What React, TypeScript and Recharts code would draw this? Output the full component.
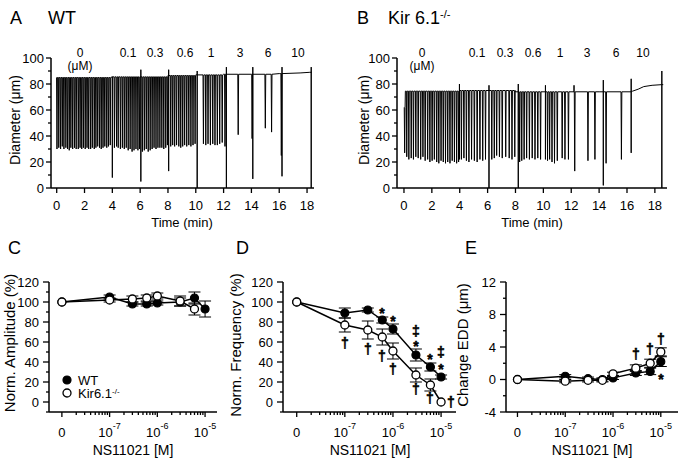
import React from 'react';
import { LineChart, ComposedChart, Line, XAxis, YAxis, Scatter, ErrorBar } from 'recharts';

const FONT = 'Arial, "Liberation Sans", Helvetica, sans-serif';

// ---------- A: WT diameter trace ----------
const wtBaseT = [0, 4, 8, 10, 12, 16, 17.5, 18.2];
const wtBaseD = [85, 85.5, 86.5, 87, 87.5, 88, 88.5, 89];
const wtDipT = [
  0.02, 0.15, 0.28, 0.4, 0.52, 0.66, 0.78, 0.9, 1.02, 1.15, 1.28, 1.4, 1.55, 1.68, 1.8, 1.92,
  2.05, 2.18, 2.3, 2.44, 2.56, 2.7, 2.82, 2.95, 3.08, 3.2, 3.33, 3.46, 3.6, 3.72, 3.85,
  4.15, 4.3, 4.42, 4.58, 4.72, 4.86, 5.0, 5.14, 5.28, 5.42, 5.56, 5.7, 5.84, 5.96,
  6.16, 6.3, 6.44, 6.58, 6.72, 6.86, 7.0, 7.14, 7.28, 7.42, 7.56, 7.7, 7.84, 7.96,
  8.2, 8.34, 8.48, 8.62, 8.78, 8.92, 9.06, 9.2, 9.35, 9.5, 9.65, 9.8, 9.95,
  10.55, 10.72, 10.88, 11.05, 11.22, 11.38, 11.55, 11.72, 11.9, 12.1,
  13.05, 14.05, 15.0, 15.45, 16.15,
];
const wtDipD = [
  30, 31, 30, 32, 30, 31, 30, 29, 31, 30, 31, 30, 30, 31, 30, 31,
  30, 31, 30, 30, 31, 30, 31, 32, 31, 30, 31, 32, 31, 32, 33,
  31, 32, 31, 30, 31, 30, 31, 29, 30, 28, 29, 30, 29, 30,
  28, 29, 30, 28, 29, 30, 31, 30, 31, 31, 31, 30, 31, 33,
  32, 33, 32, 33, 32, 31, 32, 33, 32, 33, 32, 33, 34,
  34, 33, 34, 33, 34, 33, 33, 34, 35, 32,
  41, 38, 46, 43, 25,
];
const wtMarkT = [4.0, 6.05, 8.05, 10.1, 12.2, 14.1, 16.2, 18.3];
const wtMarkTop = [85, 91, 91, 90, 93, 93, 93, 93];
const wtMarkBot = [8, 5, 13, 0, 0, 7, 9, 0];
const wtEnd = 18.35;

// ---------- B: Kir6.1-/- diameter trace ----------
const koBaseT = [0, 0.1, 4, 8, 14, 16.4, 16.8, 17.2, 17.8, 18.5];
const koBaseD = [62, 74.5, 75, 74, 74, 74.5, 76, 78, 79, 79.5];
const koDipT = [
  0.05, 0.2, 0.35, 0.52, 0.68, 0.85, 1.02, 1.2, 1.36, 1.52, 1.7, 1.86, 2.02, 2.18, 2.35, 2.5,
  2.66, 2.82, 2.98, 3.14, 3.3, 3.46, 3.62, 3.78, 3.92,
  4.12, 4.3, 4.48, 4.66, 4.85, 5.05, 5.25, 5.45, 5.65, 5.85,
  6.3, 6.48, 6.65, 6.85, 7.05, 7.3, 7.55, 7.75, 7.95,
  8.3, 8.45, 8.62, 8.8, 9.0, 9.2, 9.4, 9.6, 9.8,
  10.3, 10.45, 10.62, 10.8, 11.0, 11.35, 11.55, 11.8, 12.25,
  13.2, 13.7, 14.5, 15.6,
];
const koDipD = [
  27, 24, 22, 23, 22, 24, 23, 22, 24, 21, 22, 20, 21, 22, 20, 19,
  21, 20, 19, 20, 19, 21, 20, 19, 20,
  22, 23, 21, 20, 22, 21, 20, 22, 21, 22,
  22, 23, 25, 24, 23, 24, 23, 22, 24,
  20, 21, 22, 23, 22, 23, 22, 23, 22,
  21, 22, 20, 19, 21, 23, 22, 22, 13,
  21, 22, 19, 22,
];
const koMarkT = [3.98, 6.1, 8.2, 10.15, 12.2, 14.3, 16.3, 18.5];
const koMarkTop = [80, 79, 80, 79, 79, 83, 84, 90];
const koMarkBot = [22, 0, 0, 22, 74, 2, 27, 0];
const koEnd = 18.6;

const timeTicks = [0, 2, 4, 6, 8, 10, 12, 14, 16, 18];
const diamTicks = [0, 10, 20, 30, 40, 50, 60, 70, 80, 90, 100];
const doseText = ['0', '0.1', '0.3', '0.6', '1', '3', '6', '10'];

// ---------- C-E: dose responses ----------
const doses = [0, 1e-7, 3e-7, 6e-7, 1e-6, 3e-6, 6e-6, 1e-5];

const ampWT = [100, 105, 98, 98, 99, 100, 104, 93];
const ampWTErr = [0, 2, 2, 2, 2, 4, 6, 8];
const ampKO = [100, 102, 103, 104, 106, 101, 93];
const ampKOErr = [0, 2, 3, 3, 3, 5, 6];

const freqWT = [100, 89, 92, 82, 73, 47, 35, 25];
const freqWTErr = [0, 5, 2, 3, 5, 6, 4, 2];
const freqKO = [100, 77, 72, 65, 51, 27, 17, 0];
const freqKOErr = [0, 7, 9, 8, 8, 7, 6, 0];

const eddWT = [0, 0.4, 0.1, 0, 0.2, 0.8, 1.0, 2.2];
const eddWTErr = [0, 0.2, 0.2, 0.2, 0.2, 0.3, 0.4, 0.6];
const eddKO = [0, -0.2, -0.1, -0.1, 0.7, 1.4, 2.0, 3.4];
const eddKOErr = [0, 0.2, 0.2, 0.2, 0.2, 0.4, 0.5, 0.5];

// significance marks: dose, y value, symbol, placement
const freqMarkDose = [6e-7, 1e-6, 3e-6, 3e-6, 6e-6, 1e-5, 1e-5, 1e-7, 3e-7, 6e-7, 1e-6, 3e-6, 6e-6, 1e-5];
const freqMarkY = [93, 85, 71, 60, 47, 50, 37, 59, 53, 46, 33, 13, 4, 0];
const freqMarkSym = ['*', '*', '‡', '*', '*', '‡', '*', '†', '†', '†', '†', '†', '†', '†'];
const freqMarkSide = ['', '', '', '', '', '', '', '', '', '', '', '', '', 'right'];

const eddMarkDose = [3e-6, 6e-6, 1e-5, 1e-5];
const eddMarkY = [3.1, 3.7, 5.0, 0.6];
const eddMarkSym = ['†', '†', '†', '*'];
const eddMarkSide = ['', '', '', ''];

const ampTicks = [-10, 0, 10, 20, 30, 40, 50, 60, 70, 80, 90, 100, 110, 120];
const eddTicks = [-4, -2, 0, 2, 4, 6, 8, 10, 12];

const logPos = (d: number) => (d === 0 ? -8 : Math.log10(d));
const logTicks: number[] = [];
[-8, -7, -6].forEach((dec) => {
  logTicks.push(dec);
  for (let k = 2; k <= 9; k++) logTicks.push(dec + Math.log10(k));
});
logTicks.push(-5);

const toPts = (vals: number[], errs: number[]) =>
  vals.map((v, i) => ({ x: logPos(doses[i]), y: v, e: errs[i] }));
const toMarks = (ds: number[], ys: number[], ss: string[], side: string[]) =>
  ds.map((d, i) => ({ x: logPos(d), y: ys[i], s: ss[i], side: side[i] }));

function baseAt(bt: number[], bd: number[], t: number) {
  let v = bd[0];
  bt.forEach((s, i) => {
    if (t >= s) v = bd[i];
  });
  return v;
}

function buildTrace(
  bt: number[], bd: number[], dipT: number[], dipD: number[],
  mT: number[], mTop: number[], mBot: number[], end: number,
) {
  const ev: { t: number; pts: number[][] }[] = [];
  bt.forEach((t, i) => ev.push({ t, pts: [[t, bd[i]]] }));
  dipT.forEach((t, i) => {
    const b = baseAt(bt, bd, t);
    ev.push({ t, pts: [[t - 0.03, b], [t, dipD[i]], [t + 0.03, b]] });
  });
  mT.forEach((t, i) => {
    const b = baseAt(bt, bd, t);
    ev.push({ t, pts: [[t, b], [t, mTop[i]], [t, mBot[i]], [t, b]] });
  });
  ev.push({ t: end, pts: [[end, baseAt(bt, bd, end)]] });
  ev.sort((a, b) => a.t - b.t);
  return ev.flatMap((e) => e.pts.map(([t, d]) => ({ t, d })));
}

const wtTrace = buildTrace(wtBaseT, wtBaseD, wtDipT, wtDipD, wtMarkT, wtMarkTop, wtMarkBot, wtEnd);
const koTrace = buildTrace(koBaseT, koBaseD, koDipT, koDipD, koMarkT, koMarkTop, koMarkBot, koEnd);

// ---------- ticks ----------
const YTick = (props: any) => {
  const { x, y, payload, step, gap, len } = props;
  const v = payload.value;
  const major = Math.abs(v / step - Math.round(v / step)) < 1e-6;
  return (
    <g>
      <line x1={x} x2={x - (major ? len : 3)} y1={y} y2={y} stroke="#000" strokeWidth={1.3} />
      {major && (
        <text x={x - gap} y={y} textAnchor="end" dominantBaseline="central" fontSize={13} fontFamily={FONT} fill="#000">
          {v}
        </text>
      )}
    </g>
  );
};

const TimeTick = (props: any) => {
  const { x, y, payload } = props;
  return (
    <g>
      <line x1={x} x2={x} y1={y} y2={y + 5} stroke="#000" strokeWidth={1.3} />
      <text x={x} y={y + 17} textAnchor="middle" dominantBaseline="central" fontSize={13} fontFamily={FONT} fill="#000">
        {payload.value}
      </text>
    </g>
  );
};

const LogTick = (props: any) => {
  const { x, y, payload } = props;
  const v = payload.value;
  const major = Math.abs(v - Math.round(v)) < 1e-6;
  return (
    <g>
      <line x1={x} x2={x} y1={y} y2={y + (major ? 5 : 3)} stroke="#000" strokeWidth={1.3} />
      {major && (
        <text x={x} y={y + 20} textAnchor="middle" dominantBaseline="central" fontSize={13} fontFamily={FONT} fill="#000">
          {Math.round(v) === -8 ? '0' : '10'}
          {Math.round(v) !== -8 && (
            <tspan dy={-6} fontSize={9}>
              {String(Math.round(v))}
            </tspan>
          )}
        </text>
      )}
    </g>
  );
};

const MarkShape = (props: any) => {
  const { cx, cy, payload } = props;
  const isStar = payload.s === '*';
  return (
    <text
      x={Math.round(payload.side === 'right' ? cx + 10 : cx)}
      y={cy + (isStar ? 4 : 0)}
      textAnchor="middle"
      dominantBaseline="central"
      fontSize={isStar ? 14 : 14}
      fontWeight="bold"
      fontFamily={FONT}
      fill="#000"
      stroke="#000"
      strokeWidth={0.5}
    >
      {payload.s}
    </text>
  );
};

// ---------- html text ----------
const T = ({ x, y, size = 13, anchor = 'middle', rotate = false, children }: any) => (
  <div
    style={{
      position: 'absolute',
      left: x,
      top: y,
      fontSize: size,
      fontFamily: FONT,
      lineHeight: 1,
      whiteSpace: 'nowrap',
      color: '#000',
      transform: `translate(${anchor === 'middle' ? '-50%' : anchor === 'start' ? '0' : '-100%'}, -50%)${rotate ? ' rotate(-90deg)' : ''}`,
    }}
  >
    {children}
  </div>
);

const Sup = ({ children }: any) => (
  <span style={{ fontSize: '0.62em', position: 'relative', top: '-0.55em' }}>{children}</span>
);

// ---------- charts ----------
const TraceChart = ({ left, width, yW, rightM, dom, data }: any) => (
  <div style={{ position: 'absolute', left, top: 0 }}>
    <LineChart width={width} height={230} data={data} margin={{ top: 58, right: rightM, bottom: 12, left: 0 }}>
      <XAxis
        dataKey="t" type="number" domain={dom} ticks={timeTicks} interval={0} allowDataOverflow
        tickLine={false} tickSize={0} tickMargin={0} height={30} stroke="#000" strokeWidth={1.5}
        tick={(p: any) => <TimeTick {...p} />}
      />
      <YAxis
        type="number" domain={[0, 100]} ticks={diamTicks} interval={0} allowDataOverflow
        tickLine={false} tickSize={0} tickMargin={0} width={yW} stroke="#000" strokeWidth={1.5}
        tick={(p: any) => <YTick {...p} step={20} gap={7} len={5} />}
      />
      <Line dataKey="d" stroke="#000" strokeWidth={1} dot={false} isAnimationActive={false} />
    </LineChart>
  </div>
);

const DoseChart = ({ left, width, yW, rightM, dom, yDom, yTicks, yStep, wt, ko, marks }: any) => (
  <div style={{ position: 'absolute', left, top: 235 }}>
    <ComposedChart width={width} height={223} margin={{ top: 47, right: rightM, bottom: 16, left: 0 }}>
      <XAxis
        dataKey="x" type="number" domain={dom} ticks={logTicks} interval={0} allowDataOverflow
        tickLine={false} tickSize={0} tickMargin={0} height={30} stroke="#000" strokeWidth={1.5}
        tick={(p: any) => <LogTick {...p} />}
      />
      <YAxis
        dataKey="y" type="number" domain={yDom} ticks={yTicks} interval={0} allowDataOverflow
        tickLine={false} tickSize={0} tickMargin={0} width={yW} stroke="#000" strokeWidth={1.5}
        tick={(p: any) => <YTick {...p} step={yStep} gap={10} len={6} />}
      />
      <Line
        data={wt} dataKey="y" stroke="#000" strokeWidth={1.5} isAnimationActive={false}
        dot={{ r: 4, fill: '#000', stroke: '#000', strokeWidth: 1.2 }}
      >
        <ErrorBar dataKey="e" width={6} stroke="#000" strokeWidth={1} direction="y" />
      </Line>
      <Line
        data={ko} dataKey="y" stroke="#000" strokeWidth={1.5} isAnimationActive={false}
        dot={{ r: 4, fill: '#fff', stroke: '#000', strokeWidth: 1.3 }}
      >
        <ErrorBar dataKey="e" width={6} stroke="#000" strokeWidth={1} direction="y" />
      </Line>
      {marks && <Scatter data={marks} dataKey="y" shape={(p: any) => <MarkShape {...p} />} isAnimationActive={false} />}
    </ComposedChart>
  </div>
);

export default function App() {
  const koDoseX = [422, 477, 505, 533, 560, 587, 616, 643];
  const wtDoseX = [80, 128, 155, 185, 211, 240, 268, 298];
  return (
    <div style={{ position: 'absolute', left: 0, top: 0, width: 681, height: 458, background: '#fff', fontFamily: FONT }}>
      <TraceChart left={0} width={340} yW={51} rightM={26} dom={[-0.41, 18.5]} data={wtTrace} />
      <TraceChart left={340} width={341} yW={57} rightM={14} dom={[-0.5, 18.87]} data={koTrace} />

      <DoseChart
        left={0} width={230} yW={49} rightM={13} dom={[-8.27, -4.75]} yDom={[-10, 120]} yTicks={ampTicks} yStep={20}
        wt={toPts(ampWT, ampWTErr)} ko={toPts(ampKO, ampKOErr)}
      />
      <DoseChart
        left={230} width={230} yW={53} rightM={4} dom={[-8.285, -4.69]} yDom={[-10, 120]} yTicks={ampTicks} yStep={20}
        wt={toPts(freqWT, freqWTErr)} ko={toPts(freqKO, freqKOErr)}
        marks={toMarks(freqMarkDose, freqMarkY, freqMarkSym, freqMarkSide)}
      />
      <DoseChart
        left={460} width={221} yW={46} rightM={3} dom={[-8.24, -4.64]} yDom={[-4, 12]} yTicks={eddTicks} yStep={4}
        wt={toPts(eddWT, eddWTErr)} ko={toPts(eddKO, eddKOErr)}
        marks={toMarks(eddMarkDose, eddMarkY, eddMarkSym, eddMarkSide)}
      />

      {/* panel letters */}
      <T x={10} y={18} size={18} anchor="start">A</T>
      <T x={48} y={18} size={18} anchor="start">WT</T>
      <T x={357} y={18} size={18} anchor="start">B</T>
      <T x={388} y={18} size={18} anchor="start">
        Kir 6.1<Sup>-/-</Sup>
      </T>
      <T x={8} y={248} size={18} anchor="start">C</T>
      <T x={236} y={248} size={18} anchor="start">D</T>
      <T x={465} y={248} size={18} anchor="start">E</T>

      {/* dose labels above traces */}
      {doseText.map((s, i) => (
        <T key={'a' + i} x={wtDoseX[i]} y={53} size={12}>{s}</T>
      ))}
      <T x={80} y={66} size={12}>(μM)</T>
      {doseText.map((s, i) => (
        <T key={'b' + i} x={koDoseX[i]} y={53} size={12}>{s}</T>
      ))}
      <T x={422} y={66} size={12}>(μM)</T>

      {/* axis titles */}
      <T x={15} y={120} size={14} rotate>Diameter (μm)</T>
      <T x={364} y={120} size={14} rotate>Diameter (μm)</T>
      <T x={182} y={222} size={13}>Time (min)</T>
      <T x={532} y={222} size={13}>Time (min)</T>
      <T x={9} y={343} size={15} rotate>Norm. Amplitude (%)</T>
      <T x={235} y={345} size={15} rotate>Norm. Frequency (%)</T>
      <T x={462} y={345} size={15} rotate>Change EDD (μm)</T>
      <T x={133} y={450} size={14}>NS11021 [M]</T>
      <T x={370} y={450} size={14}>NS11021 [M]</T>
      <T x={592} y={450} size={14}>NS11021 [M]</T>

      {/* legend in C */}
      <svg style={{ position: 'absolute', left: 62, top: 375 }} width={10} height={24}>
        <circle cx={5} cy={5} r={4} fill="#000" stroke="#000" strokeWidth={1.2} />
        <circle cx={5} cy={18} r={4} fill="#fff" stroke="#000" strokeWidth={1.3} />
      </svg>
      <T x={78} y={380} size={13} anchor="start">WT</T>
      <T x={78} y={394} size={13} anchor="start">
        Kir6.1<Sup>-/-</Sup>
      </T>
    </div>
  );
}
